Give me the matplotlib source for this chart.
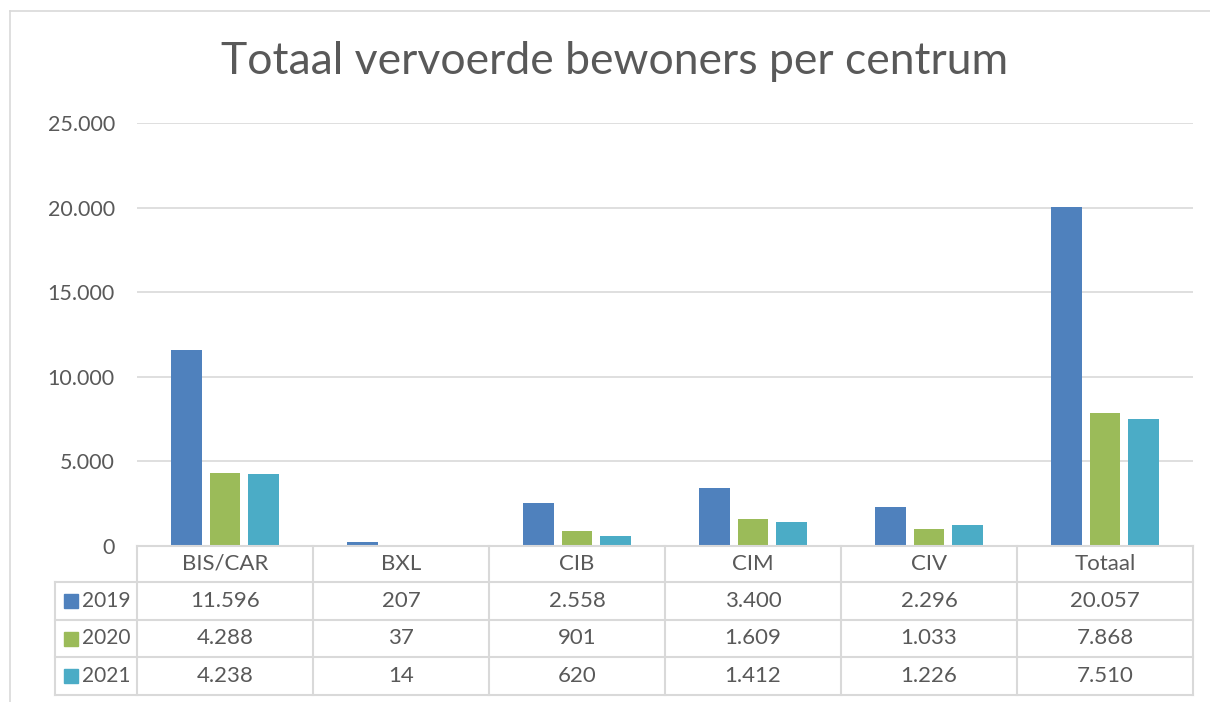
import matplotlib
matplotlib.use("Agg")
import matplotlib.pyplot as plt
import numpy as np
from matplotlib.lines import Line2D
from matplotlib.patches import Rectangle

plt.rcParams['font.family'] = ['Lato', 'DejaVu Sans']

centra = ['BIS/CAR', 'BXL', 'CIB', 'CIM', 'CIV', 'Totaal']
jaren = ['2019', '2020', '2021']
v2019 = [11596, 207, 2558, 3400, 2296, 20057]
v2020 = [4288, 37, 901, 1609, 1033, 7868]
v2021 = [4238, 14, 620, 1412, 1226, 7510]
kleuren = ['#4F81BD', '#9BBB59', '#4BACC6']

TXT = '#595959'
GRID = '#D9D9D9'
W, H = 1210, 702


def fmt(v):
    return f'{v:,}'.replace(',', '.')


fig = plt.figure(figsize=(12.1, 7.02), dpi=100)
# pixel helpers (origin top-left)
px = lambda x: x / W
py = lambda y: 1 - y / H

left, right, top, bottom = 137, 1193, 123, 546
ax = fig.add_axes([px(left), py(bottom), px(right - left), (bottom - top) / H])

x = np.arange(len(centra))
breedte = 0.176
stap = 0.219
for i, (reeks, kleur) in enumerate(zip([v2019, v2020, v2021], kleuren)):
    ax.bar(x + (i - 1) * stap, reeks, width=breedte, color=kleur, zorder=3)

ax.set_xlim(-0.5, len(centra) - 0.5)
ax.set_ylim(0, 25000)
ax.set_yticks(range(0, 25001, 5000))
ax.set_yticklabels([fmt(t) for t in range(0, 25001, 5000)], fontsize=15.5, color=TXT)
ax.tick_params(axis='y', length=0, pad=16)
ax.set_xticks([])
ax.grid(axis='y', color=GRID, linewidth=1.2, zorder=0)
for s in ax.spines.values():
    s.set_visible(False)

# outer chart border
fig.add_artist(Line2D([px(10), px(10)], [py(11), 0], color=GRID, lw=1.2))
fig.add_artist(Line2D([px(10), 1], [py(11), py(11)], color=GRID, lw=1.2))

fig.text(px(615), py(62), 'Totaal vervoerde bewoners per centrum', ha='center', va='center',
         fontsize=32, color=TXT)

# data table
rij_y = [546, 582, 620, 657, 695]
kol_x = [left + k * (right - left) / len(centra) for k in range(len(centra) + 1)]
leg_x = 55
lw = 1.5
# horizontal lines
fig.add_artist(Line2D([px(left), px(right)], [py(rij_y[0])] * 2, color=GRID, lw=lw))
for yy in rij_y[1:]:
    fig.add_artist(Line2D([px(leg_x), px(right)], [py(yy)] * 2, color=GRID, lw=lw))
# vertical lines
for xx in kol_x:
    fig.add_artist(Line2D([px(xx)] * 2, [py(rij_y[0]), py(rij_y[-1])], color=GRID, lw=lw))
fig.add_artist(Line2D([px(leg_x)] * 2, [py(rij_y[1]), py(rij_y[-1])], color=GRID, lw=lw))

for k, naam in enumerate(centra):
    cx = (kol_x[k] + kol_x[k + 1]) / 2
    fig.text(px(cx), py((rij_y[0] + rij_y[1]) / 2), naam, ha='center', va='center',
             fontsize=16, color=TXT)

for r, (jaar, reeks, kleur) in enumerate(zip(jaren, [v2019, v2020, v2021], kleuren)):
    cy = (rij_y[r + 1] + rij_y[r + 2]) / 2
    fig.add_artist(Rectangle((px(64), py(cy + 7)), px(14), 14 / H, color=kleur))
    fig.text(px(82), py(cy), jaar, ha='left', va='center', fontsize=15, color=TXT)
    for k, v in enumerate(reeks):
        cx = (kol_x[k] + kol_x[k + 1]) / 2
        fig.text(px(cx), py(cy), fmt(v), ha='center', va='center', fontsize=16, color=TXT)

fig.savefig('out.png', dpi=100, facecolor='white')
